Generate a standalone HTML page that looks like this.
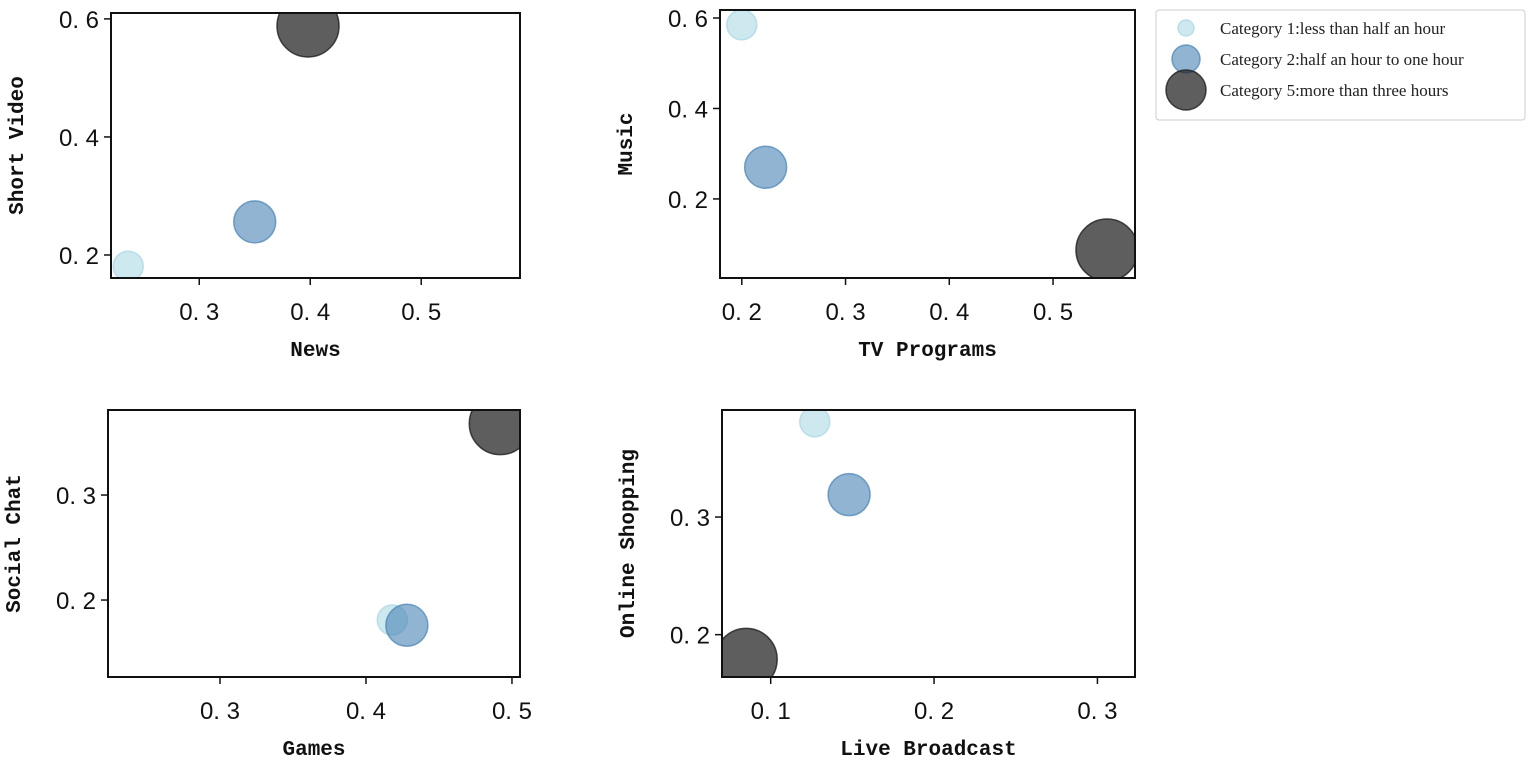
<!DOCTYPE html>
<html><head><meta charset="utf-8"><style>
body{margin:0;background:#fff;}
svg text{font-family:"Liberation Mono","Noto Sans CJK SC",monospace;fill:#111;}
svg text.tick{font-family:"Liberation Sans","Noto Sans CJK SC",sans-serif;}
.leg{font-family:"Liberation Serif",serif;font-size:17px;fill:#222;}
</style></head><body>
<svg id="chart" width="1535" height="762" xmlns="http://www.w3.org/2000/svg"></svg>
<script>
const categories = ["Category 1:less than half an hour","Category 2:half an hour to one hour","Category 5:more than three hours"];
const xLabels = ["News","TV Programs","Games","Live Broadcast"];
const yLabels = ["Short Video","Music","Social Chat","Online Shopping"];
const xValues = [[0.236,0.350,0.398],[0.200,0.223,0.552],[0.418,0.428,0.492],[0.127,0.148,0.085]];
const yValues = [[0.181,0.256,0.588],[0.585,0.270,0.087],[0.181,0.176,0.368],[0.381,0.319,0.179]];
const xTicks = [[0.3,0.4,0.5],[0.2,0.3,0.4,0.5],[0.3,0.4,0.5],[0.1,0.2,0.3]];
const yTicks = [[0.2,0.4,0.6],[0.2,0.4,0.6],[0.2,0.3],[0.2,0.3]];
const xDomains = [[0.2205,0.589],[0.179,0.579],[0.2233,0.5055],[0.0702,0.323]];
const yDomains = [[0.161,0.610],[0.0252,0.6177],[0.1267,0.381],[0.164,0.391]];
const boxes=[{x:111,y:13,w:409,h:265},{x:720,y:10,w:415,h:268},{x:108,y:410,w:412,h:267},{x:722,y:410,w:413,h:267}];
const radii=[15,21,31];
const fills=["rgba(173,216,230,0.6)","rgba(70,130,180,0.6)","rgba(40,40,40,0.75)"];
const strokes=["rgba(173,216,230,0.8)","rgba(70,130,180,0.7)","rgba(30,30,30,0.8)"];
const NS="http://www.w3.org/2000/svg";
const svg=document.getElementById('chart');
function mk(t,a,p){const e=document.createElementNS(NS,t);for(const k in a)e.setAttribute(k,a[k]);(p||svg).appendChild(e);return e;}
function fmt(v){return v.toFixed(1).replace('.','. ');}
boxes.forEach((b,i)=>{
  const g=mk('g',{});
  
  
  const clipId='c'+i;
  const cp=mk('clipPath',{id:clipId},g);mk('rect',{x:b.x,y:b.y,width:b.w,height:b.h},cp);
  const sx=v=>b.x+(v-xDomains[i][0])/(xDomains[i][1]-xDomains[i][0])*b.w;
  const sy=v=>b.y+b.h-(v-yDomains[i][0])/(yDomains[i][1]-yDomains[i][0])*b.h;
  const pts=mk('g',{'clip-path':'url(#'+clipId+')'},g);
  for(let c=0;c<3;c++){
    const ci=mk('circle',{cx:sx(xValues[i][c]),cy:sy(yValues[i][c]),r:radii[c],fill:fills[c],stroke:strokes[c],'stroke-width':1.5},pts);
    
    
  }
  const fr=mk('rect',{x:b.x,y:b.y,width:b.w,height:b.h,fill:'none',stroke:'#111','stroke-width':2},g);
  
  
  xTicks[i].forEach(t=>{
    const x=sx(t);
    mk('line',{x1:x,x2:x,y1:b.y+b.h,y2:b.y+b.h+7,stroke:'#111','stroke-width':1.5},g);
    const tx=mk('text',{x:x,y:b.y+b.h+42,'text-anchor':'middle','font-size':24,class:'tick'},g);tx.textContent=fmt(t);
    
    
  });
  yTicks[i].forEach(t=>{
    const y=sy(t);
    mk('line',{x1:b.x-7,x2:b.x,y1:y,y2:y,stroke:'#111','stroke-width':1.5},g);
    const tx=mk('text',{x:b.x-12,y:y+9,'text-anchor':'end','font-size':24,class:'tick'},g);tx.textContent=fmt(t);
    
    
  });
  const xl=mk('text',{x:b.x+b.w/2,y:b.y+b.h+78,'text-anchor':'middle','font-size':21,'font-weight':'bold'},g);xl.textContent=xLabels[i];
  
  
  const yx=b.x-88, yy=b.y+b.h/2;
  const yl=mk('text',{x:yx,y:yy,'text-anchor':'middle','font-size':21,'font-weight':'bold',transform:'rotate(-90 '+yx+' '+yy+')'},g);yl.textContent=yLabels[i];
  
  
});
const lg=mk('g',{});


mk('rect',{x:1156,y:10,width:369,height:110,rx:3,fill:'#fff',stroke:'#ccc','stroke-width':1},lg);
const ly=[28,59,90];
categories.forEach((c,k)=>{
  const ci=mk('circle',{cx:1186,cy:ly[k],r:[8,14,20][k],fill:fills[k],stroke:strokes[k],'stroke-width':1.5},lg);
  
  
  const t=mk('text',{x:1220,y:ly[k]+6,class:'leg'},lg);t.textContent=c;
  
  
});
</script>
</body></html>
